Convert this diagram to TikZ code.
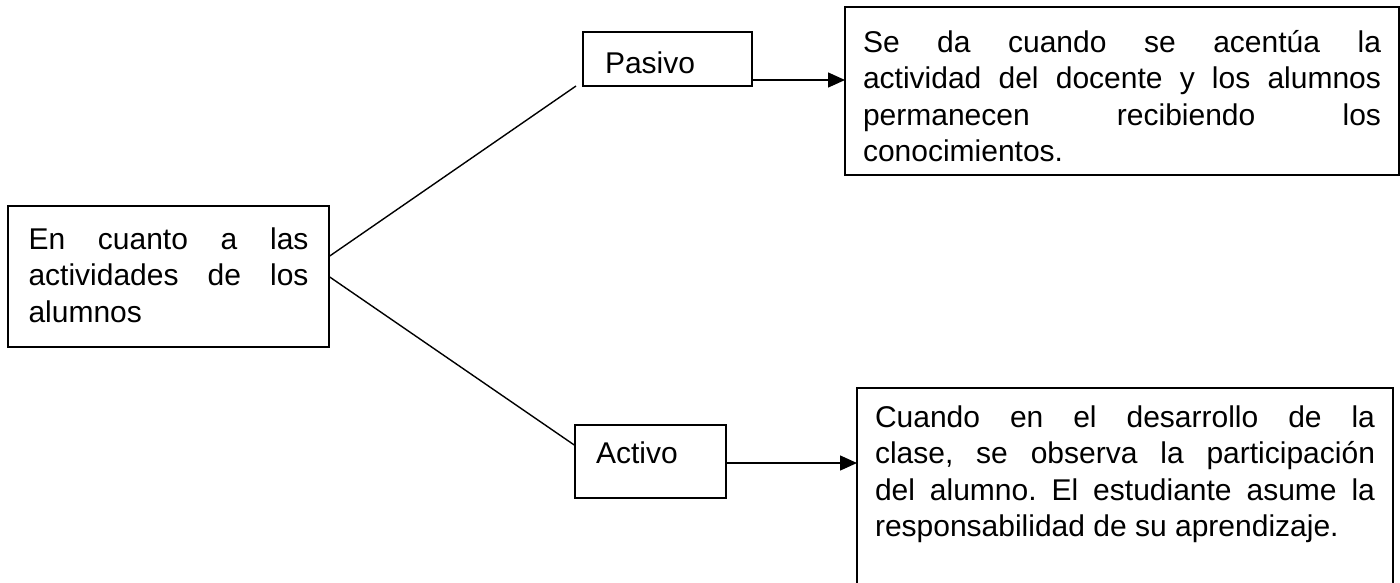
\documentclass[tikz,border=0pt]{standalone}
\usepackage{fontspec}
\setmainfont{Liberation Sans}
\usetikzlibrary{arrows.meta}

\begin{document}
\begin{tikzpicture}[x=1pt, y=-1pt, line width=1.4pt, >={Triangle[length=17pt,width=15pt]}]
        \tikzstyle{every node}=[font=\fontsize{30}{36.6}\selectfont]
        \tikzstyle{box}=[draw, line width=1.8pt, anchor=north west, outer sep=0pt, inner ysep=0pt, align=justify,
                execute at begin node={\frenchspacing\tolerance=10000\hyphenpenalty=10000}]

        \useasboundingbox (0,0) rectangle (1400,582);
        \fill[white] (0,0) rectangle (1400,582);
        \clip (0,0) rectangle (1400,582);

        \node[box, text width=280pt, inner xsep=20.5pt, text height=43pt, text depth=98pt] (alumnos) at (8,206)
                {En cuanto a las\linebreak actividades de los\linebreak alumnos};
        \node[box, text width=125pt, inner xsep=22pt, text height=41pt, text depth=13pt] (pasivo) at (583,32) {Pasivo};
        \node[box, text width=109pt, inner xsep=21pt, text height=38pt, text depth=35pt] (activo) at (575,425) {Activo};
        \node[box, text width=518pt, inner xsep=18pt, text height=45pt, text depth=123pt] (pasdesc) at (845,7)
                {\rightskip=48pt Se da cuando se acentúa la\linebreak actividad del docente y los alumnos\linebreak
                 permanecen recibiendo los\linebreak conocimientos.};
        \node[box, text width=500pt, inner xsep=18pt, text height=39pt, text depth=200pt] (actdesc) at (857,388)
                {\rightskip=42pt Cuando en el desarrollo de la\linebreak clase, se observa la participación\linebreak
                 del alumno. El estudiante asume la\linebreak responsabilidad de su aprendizaje.};

        \draw ([yshift=20pt]alumnos.east) -- ([xshift=-7pt]pasivo.south west);
        \draw (alumnos.east) -- ([yshift=16pt]activo.west);
        \draw[->] ([yshift=-21pt]pasivo.east) -- ([yshift=-21pt]pasivo.east -| pasdesc.west);
        \draw[->] ([yshift=-1.5pt]activo.east) -- ([yshift=-1.5pt]activo.east -| actdesc.west);
\end{tikzpicture}
\end{document}
